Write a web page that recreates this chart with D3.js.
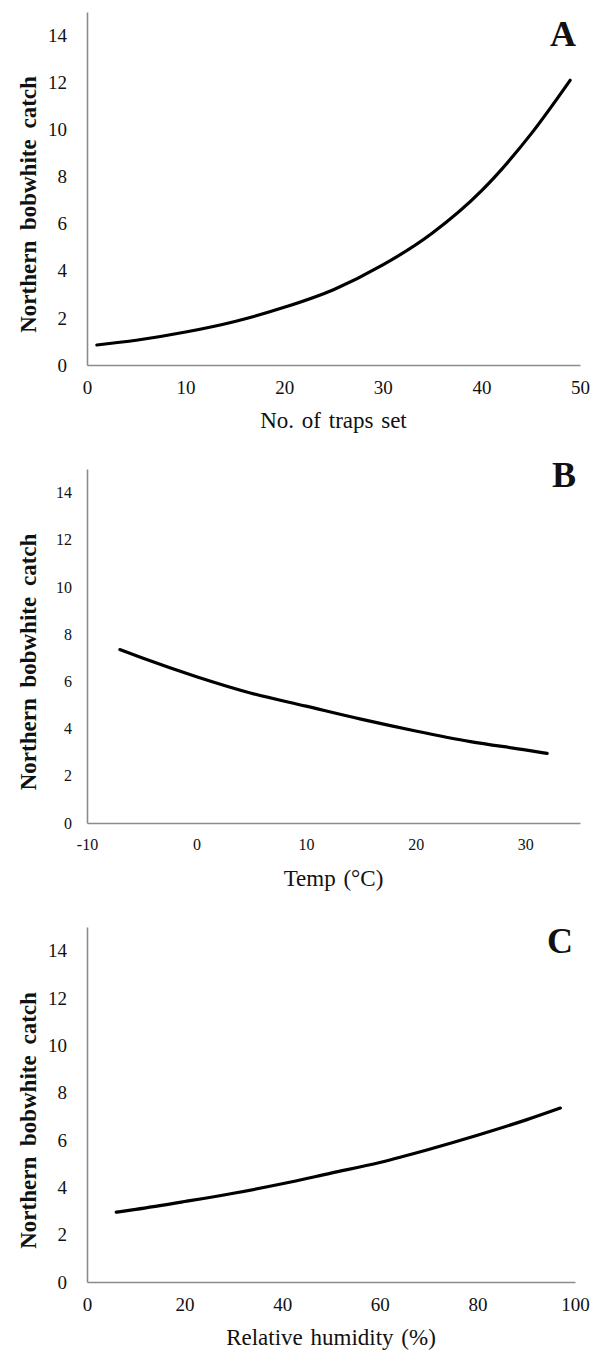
<!DOCTYPE html>
<html>
<head>
<meta charset="utf-8">
<script src="https://cdn.jsdelivr.net/npm/d3@7"></script>
<style>
	body { margin: 0; background: #fff; }
	svg { display: block; }
	.domain { stroke: #8c8c8c; stroke-width: 1.6; }
	.curve { fill: none; stroke: #000; stroke-width: 3.2; stroke-linecap: round; }
</style>
</head>
<body>
<script>
// panel A: number of traps set
const trapsX = [1, 5, 10, 15, 20, 25, 30, 35, 40, 45, 49];
const trapsY = [0.85, 1.05, 1.4, 1.85, 2.45, 3.2, 4.25, 5.6, 7.4, 9.8, 12.1];
const trapsTicks = [0, 10, 20, 30, 40, 50];

// panel B: temperature
const tempX = [-7, -5, 0, 5, 10, 15, 20, 25, 30, 32];
const tempY = [7.35, 7.0, 6.2, 5.5, 4.95, 4.4, 3.9, 3.45, 3.1, 2.95];
const tempTicks = [-10, 0, 10, 20, 30];

// panel C: relative humidity
const humX = [6, 10, 20, 30, 40, 50, 60, 70, 80, 90, 97];
const humY = [2.95, 3.07, 3.4, 3.75, 4.15, 4.6, 5.05, 5.6, 6.2, 6.85, 7.35];
const humTicks = [0, 20, 40, 60, 80, 100];

const catchTicks = [0, 2, 4, 6, 8, 10, 12, 14];
const yLabel = 'Northern bobwhite catch';

var serif = '"Liberation Serif", "Times New Roman", serif';

var panels = [
	{letter: 'A', xs: trapsX, ys: trapsY, ticks: trapsTicks, xDomain: [0, 50], xTitle: 'No. of traps set',
		top: 12, bottom: 365, right: 580, tickFont: 19, letterX: 563, letterY: 46},
	{letter: 'B', xs: tempX, ys: tempY, ticks: tempTicks, xDomain: [-10, 35], xTitle: 'Temp (°C)',
		top: 469, bottom: 823, right: 580, tickFont: 16, letterX: 564, letterY: 487},
	{letter: 'C', xs: humX, ys: humY, ticks: humTicks, xDomain: [0, 100], xTitle: 'Relative humidity  (%)',
		top: 927, bottom: 1282, right: 575, tickFont: 19, letterX: 560, letterY: 953}
];

var left = 87;
var svg = d3.select('body').append('svg')
	.attr('width', 597)
	.attr('height', 1351)
	.attr('font-family', serif);

panels.forEach(function(p) {
	var x = d3.scaleLinear().domain(p.xDomain).range([left, p.right]);
	var y = d3.scaleLinear().domain([0, 15]).range([p.bottom, p.top]);

	var g = svg.append('g');

	// plain hyphen for negatives, like the original
	var xAxis = g.append('g')
		.attr('transform', `translate(0, ${p.bottom})`)
		.call(d3.axisBottom(x).tickValues(p.ticks).tickFormat(d => String(d)).tickSize(0).tickSizeOuter(0).tickPadding(p.letter == 'B' ? 16 : 16))
		.attr('font-family', serif)
		.attr('font-size', p.tickFont);
	xAxis.selectAll('text').attr('fill', '#111');

	var yAxis = g.append('g')
		.attr('transform', `translate(${left}, 0)`)
		.call(d3.axisLeft(y).tickValues(catchTicks).tickSize(0).tickSizeOuter(0).tickPadding(p.letter == 'B' ? 15 : 20))
		.attr('font-family', serif)
		.attr('font-size', p.tickFont);
	yAxis.selectAll('text').attr('fill', '#111');

	var pts = p.xs.map((d, i) => [d, p.ys[i]]);
	g.append('path')
		.datum(pts)
		.attr('class', 'curve')
		.attr('d', d3.line().curve(d3.curveMonotoneX).x(d => x(d[0])).y(d => y(d[1])));

	g.append('text')
		.attr('x', (left + p.right) / 2)
		.attr('y', p.bottom + 63)
		.style('text-anchor', 'middle')
		.attr('font-size', 23)
		.style('word-spacing', '2px')
		.attr('fill', '#111')
		.text(p.xTitle);

	g.append('text')
		.attr('transform', 'rotate(-90)')
		.attr('x', -(p.top + p.bottom) / 2 - 16)
		.attr('y', 36)
		.style('text-anchor', 'middle')
		.attr('font-size', 23)
		.attr('font-weight', 'bold')
		.style('word-spacing', '5px')
		.attr('fill', '#111')
		.text(yLabel);

	g.append('text')
		.attr('x', p.letterX)
		.attr('y', p.letterY)
		.style('text-anchor', 'middle')
		.attr('font-size', 36)
		.attr('font-weight', 'bold')
		.attr('fill', '#111')
		.text(p.letter);
});
</script>
</body>
</html>
